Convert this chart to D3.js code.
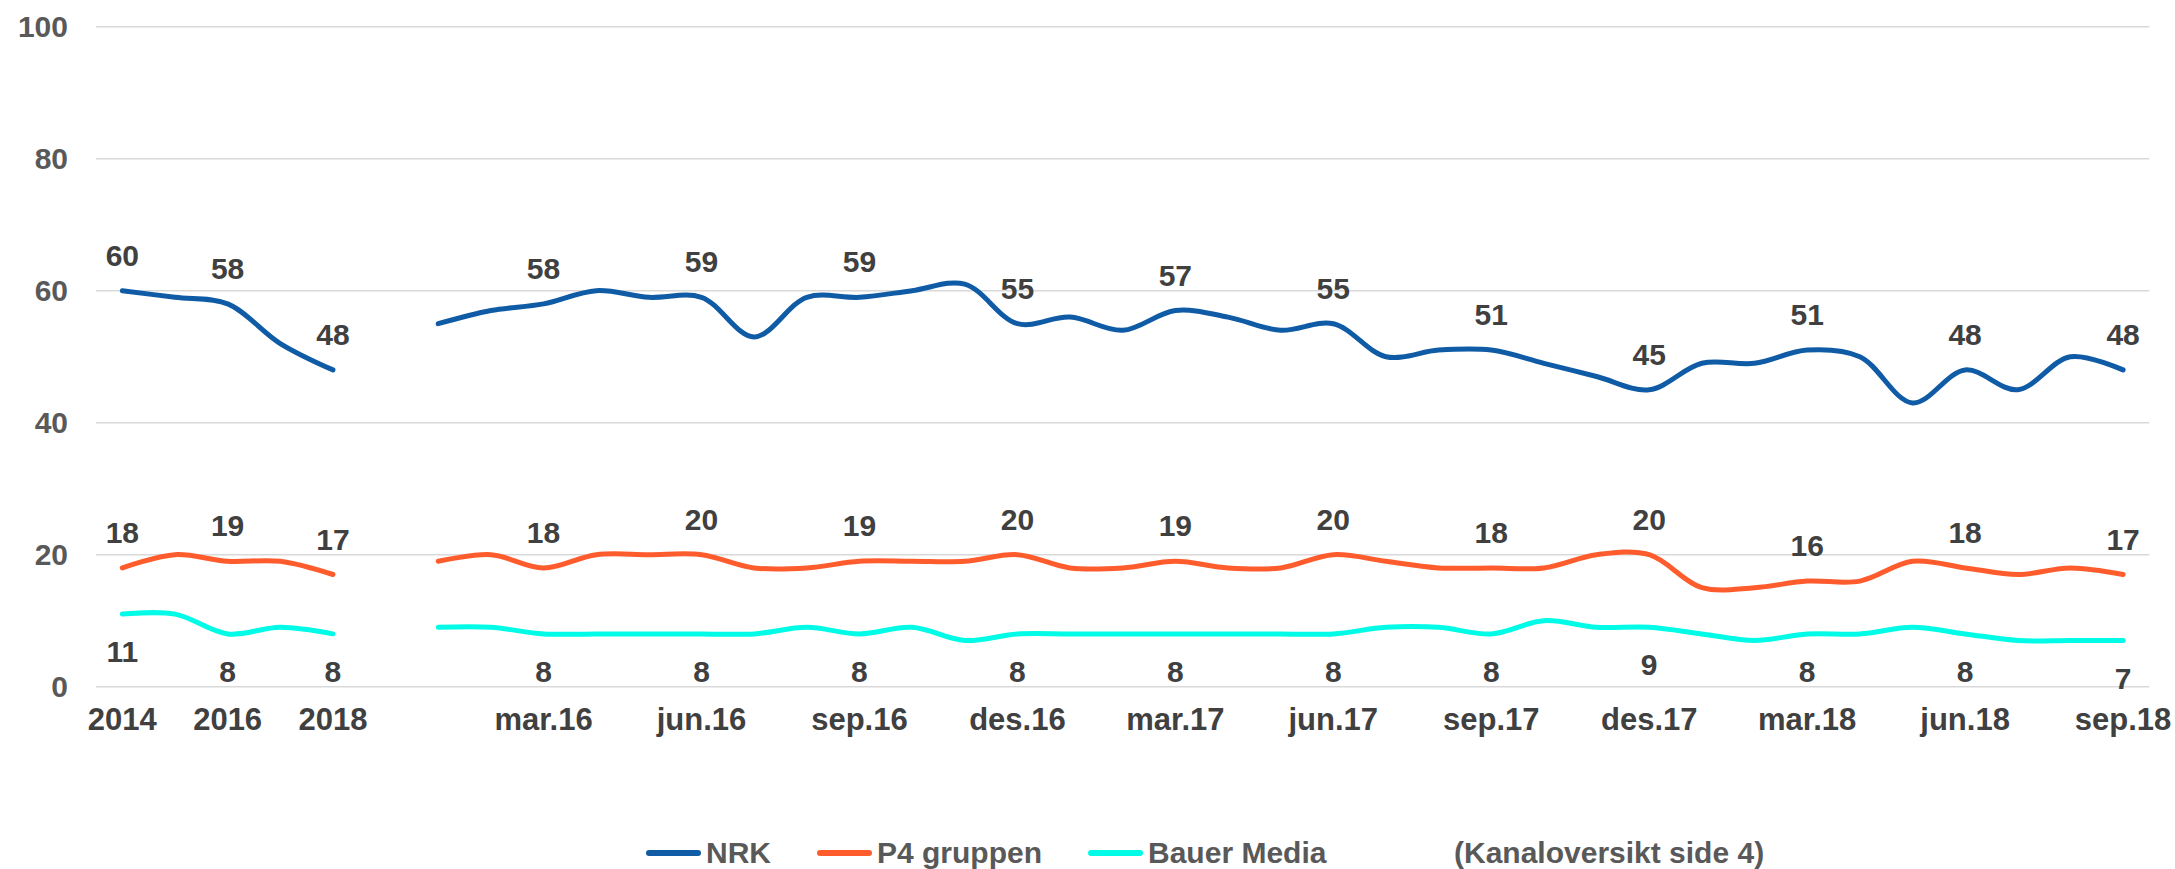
<!DOCTYPE html>
<html>
<head>
<meta charset="utf-8">
<script src="https://cdn.jsdelivr.net/npm/d3@7"></script>
<style>
  html, body { margin: 0; padding: 0; background: #ffffff; }
  svg { display: block; font-family: "Liberation Sans", Arial, sans-serif; }
</style>
</head>
<body>
<svg id="chart" width="2175" height="869"></svg>
<script>
// ---------- DATA ----------
const categories = [
  "2014","2015","2016","2017","2018"," ",
  "jan.16","feb.16","mar.16","apr.16","mai.16","jun.16","jul.16","aug.16","sep.16","okt.16","nov.16","des.16",
  "jan.17","feb.17","mar.17","apr.17","mai.17","jun.17","jul.17","aug.17","sep.17","okt.17","nov.17","des.17",
  "jan.18","feb.18","mar.18","apr.18","mai.18","jun.18","jul.18","aug.18","sep.18"
];
const tickLabels = ["2014","2016","2018","mar.16","jun.16","sep.16","des.16","mar.17","jun.17","sep.17","des.17","mar.18","jun.18","sep.18"];
const yTicks = [0, 20, 40, 60, 80, 100];

const nrk = [60,59,58,52,48,null,
  55,57,58,60,59,59,53,59,59,60,61,55,
  56,54,57,56,54,55,50,51,51,49,47,45,
  49,49,51,50,43,48,45,50,48];
const p4 = [18,20,19,19,17,null,
  19,20,18,20,20,20,18,18,19,19,19,20,
  18,18,19,18,18,20,19,18,18,18,20,20,
  15,15,16,16,19,18,17,18,17];
const bauer = [11,11,8,9,8,null,
  9,9,8,8,8,8,8,9,8,9,7,8,
  8,8,8,8,8,8,9,9,8,10,9,9,
  8,7,8,8,9,8,7,7,7];

const seriesNames = ["NRK","P4 gruppen","Bauer Media"];
const seriesColors = ["#0F5BA5","#FF5C2E","#00FBE6"];
const legendNote = "(Kanaloversikt side 4)";

// ---------- CHART ----------
const svg = d3.select("#chart");
const x = d3.scaleBand().domain(categories).range([96, 2149.4]).padding(0);
const y = d3.scaleLinear().domain([0, 100]).range([686.7, 26.7]);
const cx = c => x(c) + x.bandwidth() / 2;

// gridlines
svg.append("g").selectAll("line").data(yTicks).join("line")
  .attr("x1", 96).attr("x2", 2149.4)
  .attr("y1", d => y(d)).attr("y2", d => y(d))
  .attr("stroke", "#D9D9D9").attr("stroke-width", 1.5);

// y axis labels
const yAxis = d3.axisLeft(y).tickValues(yTicks).tickSize(0).tickPadding(0);
const gy = svg.append("g").attr("transform", "translate(68,0)").call(yAxis);
gy.select(".domain").remove();
gy.selectAll("text")
  .attr("font-size", 30).attr("font-weight", "bold")
  .attr("fill", "#595959").attr("font-family", "Liberation Sans, Arial, sans-serif");

// x axis labels
const xAxis = d3.axisBottom(x).tickValues(tickLabels).tickSize(0).tickPadding(0);
const gx = svg.append("g").attr("transform", "translate(0,686.7)").call(xAxis);
gx.select(".domain").remove();
gx.selectAll("text")
  .attr("dy", null).attr("y", 43)
  .attr("font-size", 31).attr("font-weight", "bold")
  .attr("fill", "#404040").attr("font-family", "Liberation Sans, Arial, sans-serif");

// lines
const allSeries = [nrk, p4, bauer];
const line = d3.line()
  .defined(d => d.v !== null)
  .x(d => cx(d.c))
  .y(d => y(d.v))
  .curve(d3.curveCatmullRom.alpha(0.5));

allSeries.forEach((vals, i) => {
  const pts = categories.map((c, k) => ({ c: c, v: vals[k] }));
  svg.append("path").datum(pts)
    .attr("d", line)
    .attr("fill", "none")
    .attr("stroke", seriesColors[i])
    .attr("stroke-width", 5)
    .attr("stroke-linecap", "round")
    .attr("stroke-linejoin", "round");
});

// data labels
const labelOffsets = [-25, -25, 48];
allSeries.forEach((vals, i) => {
  const pts = categories.map((c, k) => ({ c: c, v: vals[k] }))
    .filter(d => tickLabels.includes(d.c) && d.v !== null);
  svg.append("g").selectAll("text").data(pts).join("text")
    .attr("x", d => cx(d.c))
    .attr("y", d => y(d.v) + labelOffsets[i])
    .attr("text-anchor", "middle")
    .attr("font-size", 30).attr("font-weight", "bold")
    .attr("fill", "#404040")
    .text(d => d.v);
});

// legend
const legend = svg.append("g");
let lx = 646;
const ly = 853;
seriesNames.forEach((name, i) => {
  legend.append("line")
    .attr("x1", lx + 3).attr("x2", lx + 52)
    .attr("y1", ly).attr("y2", ly)
    .attr("stroke", seriesColors[i]).attr("stroke-width", 6)
    .attr("stroke-linecap", "round");
  const t = legend.append("text")
    .attr("x", lx + 60).attr("y", 863)
    .attr("font-size", 30).attr("font-weight", "bold")
    .attr("fill", "#595959")
    .text(name);
  lx = lx + 60 + t.node().getComputedTextLength() + 46;
});
legend.append("text")
  .attr("x", 1454).attr("y", 863)
  .attr("font-size", 30).attr("font-weight", "bold")
  .attr("fill", "#595959")
  .text(legendNote);
</script>
</body>
</html>
